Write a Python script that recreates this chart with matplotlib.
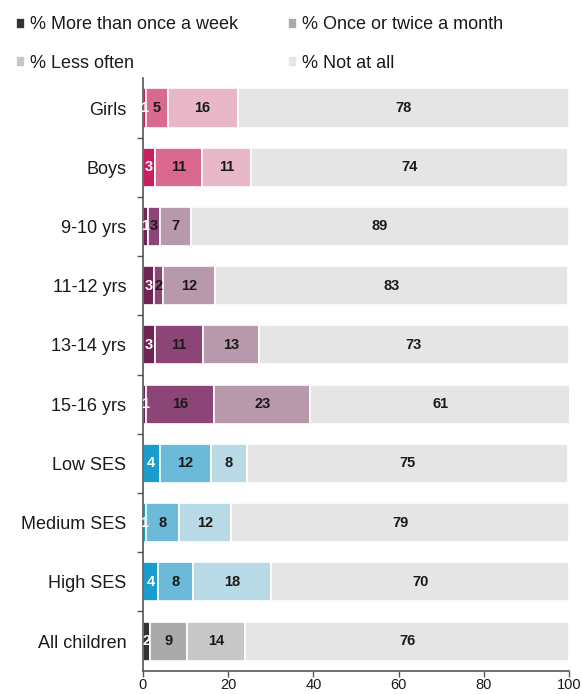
import matplotlib
matplotlib.use("Agg")
import matplotlib.pyplot as plt
from matplotlib.patches import Patch
import numpy as np

plt.rcParams['font.family'] = ['Liberation Sans', 'DejaVu Sans']

categories = ["Girls", "Boys", "9-10 yrs", "11-12 yrs", "13-14 yrs", "15-16 yrs",
              "Low SES", "Medium SES", "High SES", "All children"]
more_than_once_week = [0.6, 2.8, 1.1, 2.6, 2.8, 0.8, 3.9, 0.6, 3.6, 1.7]
once_twice_month = [5.2, 11.1, 2.8, 2.0, 11.2, 15.9, 12.1, 7.8, 8.2, 8.6]
less_often = [16.4, 11.4, 7.3, 12.4, 13.2, 22.6, 8.4, 12.3, 18.2, 13.7]
not_at_all = [77.8, 74.4, 88.8, 82.8, 72.8, 60.9, 75.4, 79.3, 70.1, 76.1]
series_names = ["% More than once a week", "% Once or twice a month",
                "% Less often", "% Not at all"]
x_ticks = [0, 20, 40, 60, 80, 100]

gender_cols = ["#c91f5f", "#d96a8e", "#e8b7c8", "#e5e5e5"]
age_cols = ["#6f2453", "#8b4577", "#b899ac", "#e5e5e5"]
ses_cols = ["#1a9ccd", "#6cbad9", "#b8d9e6", "#e5e5e5"]
all_cols = ["#333333", "#aaaaaa", "#c7c7c7", "#e5e5e5"]
row_cols = [gender_cols] * 2 + [age_cols] * 4 + [ses_cols] * 3 + [all_cols]

fig = plt.figure(figsize=(5.82, 6.94), dpi=100)
ax = fig.add_axes([0.2457, 0.0336, 0.7320, 0.8534])

series = [more_than_once_week, once_twice_month, less_often, not_at_all]
y = np.arange(len(categories))
left = np.zeros(len(categories))
for s_idx, vals in enumerate(series):
    vals = np.array(vals, dtype=float)
    cols = [rc[s_idx] for rc in row_cols]
    ax.barh(y, vals, left=left, height=0.66, color=cols, edgecolor="white",
            linewidth=1.2)
    for i, v in enumerate(vals):
        tc = "white" if s_idx == 0 else "#1a1a1a"
        ax.text(left[i] + v / 2, y[i], f"{v:.0f}", ha="center", va="center",
                fontsize=10.5, fontweight="bold", color=tc)
    left += vals

ax.set_xlim(0, 100)
ax.set_ylim(len(categories) - 0.5, -0.5)
ax.set_yticks(y)
ax.set_yticklabels(categories, fontsize=13, color="#1a1a1a")
ax.tick_params(axis="y", length=0, pad=12)
ax.set_yticks(np.arange(len(categories) - 1) + 0.5, minor=True)
ax.tick_params(axis="y", which="minor", length=4, width=1, color="#555555")
ax.set_xticks(x_ticks)
ax.set_xticklabels([str(t) for t in x_ticks], fontsize=10.5, color="#1a1a1a")
ax.tick_params(axis="x", length=4, width=1, color="#555555", pad=1.5)
for sp in ["top", "right"]:
    ax.spines[sp].set_visible(False)
for sp in ["left", "bottom"]:
    ax.spines[sp].set_color("#555555")
    ax.spines[sp].set_linewidth(1.2)

order = [0, 2, 1, 3]
handles = [Patch(facecolor=all_cols[k], edgecolor="white", linewidth=0.5) for k in order]
labels = [series_names[k] for k in order]
leg = fig.legend(handles, labels, loc="upper left",
                 bbox_to_anchor=(0.005, 0.995), ncol=2, frameon=False,
                 fontsize=13, handlelength=0.45, handleheight=0.45,
                 handletextpad=0.35, columnspacing=2.75, labelspacing=1.2,
                 borderaxespad=0.3)
for t in leg.get_texts():
    t.set_color("#1a1a1a")

fig.savefig("out.png", dpi=100)
